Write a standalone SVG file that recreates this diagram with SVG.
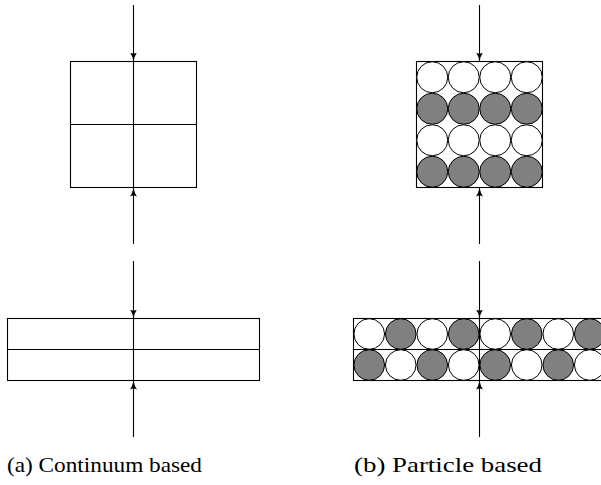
<svg xmlns="http://www.w3.org/2000/svg" width="601" height="485" viewBox="0 0 601 485">
  <defs>
    <marker id="arrow" viewBox="0 0 9 7" refX="9" refY="3.5" markerWidth="9" markerHeight="7" markerUnits="userSpaceOnUse" orient="auto">
      <path d="M0,0 Q3.5,2.6 9,3.5 Q3.5,4.4 0,7 Q2,3.5 0,0 Z" fill="#000"/>
    </marker>
  </defs>
  <style>
    .box { fill: #fff; stroke: #000; stroke-width: 1.1; }
    .ln { stroke: #000; stroke-width: 1.1; fill: none; }
    .w { fill: #fff; stroke: #000; stroke-width: 1; }
    .g { fill: #808080; stroke: #000; stroke-width: 1; }
    .conn { stroke: #000; stroke-width: 1.1; fill: none; marker-end: url(#arrow); }
    .cap { font-family: "Liberation Serif", serif; font-size: 21px; fill: #000; }
  </style>
  <rect width="601" height="485" fill="#fff"/>

  <g id="continuum-square">
    <rect class="box" x="70.5" y="61.5" width="126" height="126"/>
    <line class="ln" x1="70.5" y1="124.5" x2="196.5" y2="124.5"/>
    <line class="ln" x1="133.5" y1="61.5" x2="133.5" y2="187.5"/>
  </g>

  <g id="continuum-flat">
    <rect class="box" x="7.5" y="318.5" width="252" height="62"/>
    <line class="ln" x1="7.5" y1="349.5" x2="259.5" y2="349.5"/>
    <line class="ln" x1="133.5" y1="318.5" x2="133.5" y2="380.5"/>
  </g>

  <g id="particle-square">
    <rect class="box" x="416.5" y="61.5" width="126" height="126"/>
    <g transform="translate(416.5,61.5)">
      <circle class="w" cx="15.75" cy="15.75" r="15.5"/>
      <circle class="w" cx="47.25" cy="15.75" r="15.5"/>
      <circle class="w" cx="78.75" cy="15.75" r="15.5"/>
      <circle class="w" cx="110.25" cy="15.75" r="15.5"/>
      <circle class="g" cx="15.75" cy="47.25" r="15.5"/>
      <circle class="g" cx="47.25" cy="47.25" r="15.5"/>
      <circle class="g" cx="78.75" cy="47.25" r="15.5"/>
      <circle class="g" cx="110.25" cy="47.25" r="15.5"/>
      <circle class="w" cx="15.75" cy="78.75" r="15.5"/>
      <circle class="w" cx="47.25" cy="78.75" r="15.5"/>
      <circle class="w" cx="78.75" cy="78.75" r="15.5"/>
      <circle class="w" cx="110.25" cy="78.75" r="15.5"/>
      <circle class="g" cx="15.75" cy="110.25" r="15.5"/>
      <circle class="g" cx="47.25" cy="110.25" r="15.5"/>
      <circle class="g" cx="78.75" cy="110.25" r="15.5"/>
      <circle class="g" cx="110.25" cy="110.25" r="15.5"/>
    </g>
  </g>

  <g id="particle-flat">
    <rect class="box" x="353.5" y="318.5" width="252" height="62"/>
    <line class="ln" x1="353.5" y1="349.5" x2="605.5" y2="349.5"/>
    <line class="ln" x1="479.5" y1="318.5" x2="479.5" y2="380.5"/>
    <g transform="translate(353.5,318.5)">
      <circle class="w" cx="15.75" cy="15.5" r="15.3"/>
      <circle class="g" cx="47.25" cy="15.5" r="15.3"/>
      <circle class="w" cx="78.75" cy="15.5" r="15.3"/>
      <circle class="g" cx="110.25" cy="15.5" r="15.3"/>
      <circle class="w" cx="141.75" cy="15.5" r="15.3"/>
      <circle class="g" cx="173.25" cy="15.5" r="15.3"/>
      <circle class="w" cx="204.75" cy="15.5" r="15.3"/>
      <circle class="g" cx="236.25" cy="15.5" r="15.3"/>
      <circle class="g" cx="15.75" cy="46.5" r="15.3"/>
      <circle class="w" cx="47.25" cy="46.5" r="15.3"/>
      <circle class="g" cx="78.75" cy="46.5" r="15.3"/>
      <circle class="w" cx="110.25" cy="46.5" r="15.3"/>
      <circle class="g" cx="141.75" cy="46.5" r="15.3"/>
      <circle class="w" cx="173.25" cy="46.5" r="15.3"/>
      <circle class="g" cx="204.75" cy="46.5" r="15.3"/>
      <circle class="w" cx="236.25" cy="46.5" r="15.3"/>
    </g>
  </g>

  <g id="connectors">
    <line class="conn" x1="133.5" y1="5" x2="133.5" y2="61.5"/>
    <line class="conn" x1="133.5" y1="244" x2="133.5" y2="187.5"/>
    <line class="conn" x1="479.5" y1="5" x2="479.5" y2="61.5"/>
    <line class="conn" x1="479.5" y1="244" x2="479.5" y2="187.5"/>
    <line class="conn" x1="133.5" y1="261" x2="133.5" y2="318.5"/>
    <line class="conn" x1="133.5" y1="437" x2="133.5" y2="380.5"/>
    <line class="conn" x1="479.5" y1="261" x2="479.5" y2="318.5"/>
    <line class="conn" x1="479.5" y1="437" x2="479.5" y2="380.5"/>
  </g>

  <g id="captions">
    <text class="cap" x="7" y="472" textLength="195" lengthAdjust="spacingAndGlyphs">(a) Continuum based</text>
    <text class="cap" x="354" y="472" textLength="188" lengthAdjust="spacingAndGlyphs">(b) Particle based</text>
  </g>
</svg>
